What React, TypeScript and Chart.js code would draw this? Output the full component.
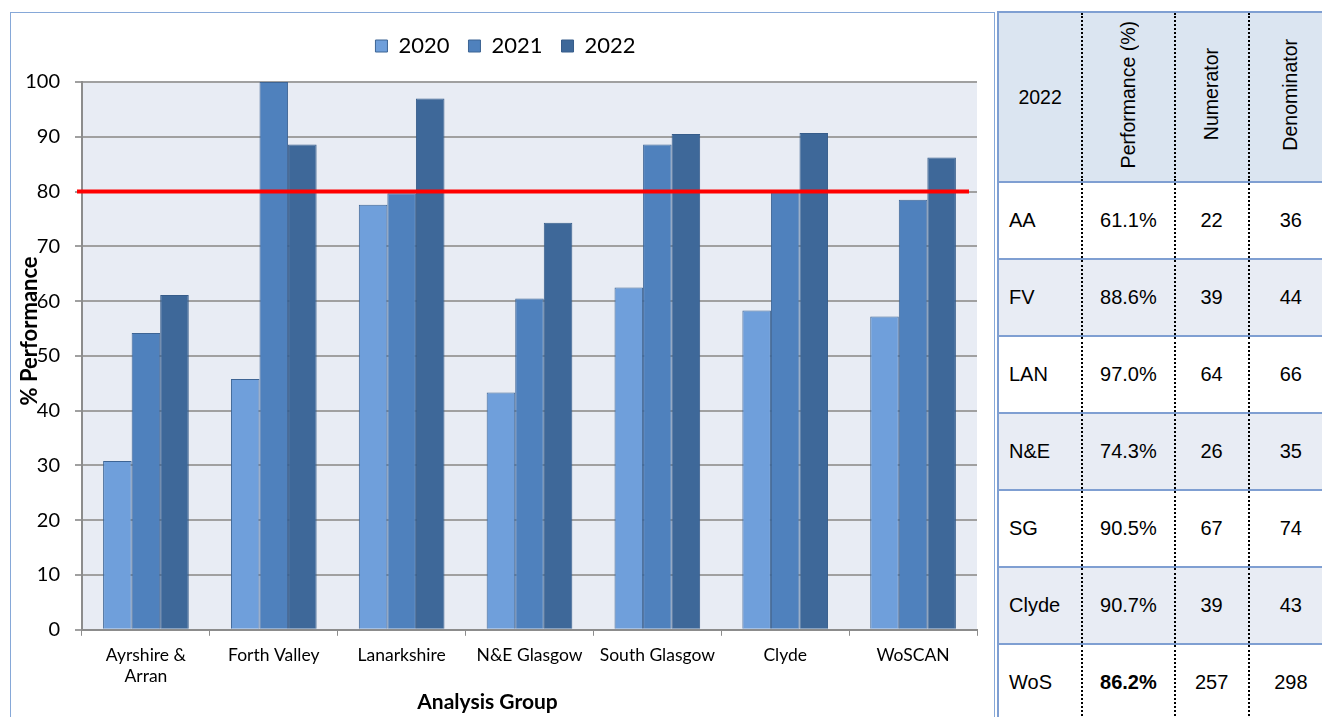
import React, { useEffect, useRef } from "react";
import { Chart, registerables } from "chart.js";

Chart.register(...registerables);

const categories: (string | string[])[] = [
  ["Ayrshire &", "Arran"],
  "Forth Valley",
  "Lanarkshire",
  "N&E Glasgow",
  "South Glasgow",
  "Clyde",
  "WoSCAN",
];
const values2020 = [30.8, 45.8, 77.6, 43.3, 62.5, 58.3, 57.2];
const values2021 = [54.2, 100, 79.7, 60.5, 88.6, 80.0, 78.5];
const values2022 = [61.1, 88.6, 97.0, 74.3, 90.5, 90.7, 86.2];
const targetValue = 80;
const yTicks = [0, 10, 20, 30, 40, 50, 60, 70, 80, 90, 100];
const xTitle = "Analysis Group";
const yTitle = "% Performance";

const tableHeaderYear = "2022";
const tableColumns = ["Performance (%)", "Numerator", "Denominator"];
const tableGroups = ["AA", "FV", "LAN", "N&E", "SG", "Clyde", "WoS"];
const tablePerf = ["61.1%", "88.6%", "97.0%", "74.3%", "90.5%", "90.7%", "86.2%"];
const tableNum = [22, 39, 64, 26, 67, 39, 257];
const tableDen = [36, 44, 66, 35, 74, 43, 298];

const FONT = "Lato, 'Open Sans', sans-serif";
const X_TITLE_SIZE = 21;
const Y_TITLE_SIZE = 22;

const bgPlugin = {
  id: "plotBg",
  beforeDraw(chart: any) {
    const { ctx, chartArea } = chart;
    ctx.save();
    ctx.fillStyle = "#e8ecf4";
    ctx.fillRect(chartArea.left, chartArea.top, chartArea.right - chartArea.left, chartArea.bottom - chartArea.top);
    ctx.restore();
  },
};

const legendGapPlugin = {
  id: "legendGap",
  beforeLayout(chart: any) {
    const lg = chart.legend;
    if (lg && !lg.__patched) {
      const f = lg.fit;
      lg.fit = function (this: any) {
        f.call(this);
        this.height += 15;
      };
      lg.__patched = true;
    }
  },
  afterLayout(chart: any) {
    const lg = chart.legend;
    if (lg) lg.left += 18;
  },
};

const targetPlugin = {
  id: "targetLine",
  afterDatasetsDraw(chart: any) {
    const { ctx, chartArea } = chart;
    const y = chart.scales.y.getPixelForValue(targetValue);
    ctx.save();
    ctx.strokeStyle = "#ff0000";
    ctx.lineWidth = 4;
    ctx.beginPath();
    ctx.moveTo(chartArea.left - 5, y);
    ctx.lineTo(chartArea.right - 8, y);
    ctx.stroke();
    ctx.restore();
  },
};

const axisTitlePlugin = {
  id: "axisTitlesShifted",
  afterDraw(chart: any) {
    const { ctx, chartArea } = chart;
    const sx = chart.scales.x;
    const sy = chart.scales.y;
    ctx.save();
    ctx.fillStyle = "#000";
    ctx.textAlign = "center";
    ctx.textBaseline = "middle";
    ctx.font = `bold ${X_TITLE_SIZE}px ${FONT}`;
    ctx.fillText(xTitle, (chartArea.left + chartArea.right) / 2 - 42, sx.bottom - 19);
    ctx.font = `bold ${Y_TITLE_SIZE}px ${FONT}`;
    ctx.translate(sy.left + (Y_TITLE_SIZE * 1.2) / 2 + 1, (chartArea.top + chartArea.bottom) / 2 - 25);
    ctx.rotate(-Math.PI / 2);
    ctx.fillText(yTitle, 0, 0);
    ctx.restore();
  },
};

function BarChart() {
  const ref = useRef<HTMLCanvasElement>(null);
  useEffect(() => {
    if (!ref.current) return;
    const chart = new Chart(ref.current, {
      type: "bar",
      data: {
        labels: categories as any,
        datasets: [
          { label: "2020", data: values2020, backgroundColor: "#6f9fdb", borderColor: "#3d6494", borderWidth: 1 },
          { label: "2021", data: values2021, backgroundColor: "#4f81bd", borderColor: "#3d6494", borderWidth: 1 },
          { label: "2022", data: values2022, backgroundColor: "#3e6899", borderColor: "#365c8a", borderWidth: 1 },
        ],
      },
      options: {
        animation: false,
        responsive: false,
        maintainAspectRatio: false,
        datasets: { bar: { categoryPercentage: 0.67, barPercentage: 1.0 } } as any,
        layout: { padding: { left: 5, right: 17, top: 3, bottom: 0 } },
        plugins: {
          legend: {
            position: "top",
            labels: {
              font: { family: FONT, size: 22 },
              color: "#000",
              boxWidth: 12,
              boxHeight: 12,
              padding: 19,
            },
          },
          tooltip: { enabled: false },
        },
        scales: {
          x: {
            grid: {
              offset: true,
              drawOnChartArea: false,
              drawTicks: true,
              tickLength: 6,
              color: "#8c8c8c",
            },
            border: { color: "#8c8c8c", width: 2 },
            ticks: { font: { family: FONT, size: 17.5 }, color: "#000", maxRotation: 0, autoSkip: false, padding: 9 },
            title: {
              display: true,
              text: xTitle,
              font: { family: FONT, size: X_TITLE_SIZE, weight: "bold" },
              color: "rgba(0,0,0,0)",
              padding: { top: 0, bottom: 0 },
            },
          },
          y: {
            min: 0,
            max: 100,
            afterBuildTicks(scale: any) {
              scale.ticks = yTicks.map((v) => ({ value: v }));
            },
            afterFit(scale: any) {
              scale.width = 66;
            },
            grid: { color: "#a0a0a0", lineWidth: 2, tickLength: 7 },
            border: { color: "#8c8c8c", width: 2 },
            ticks: { font: { family: FONT, size: 20 }, color: "#000", padding: 15 },
            title: {
              display: true,
              text: yTitle,
              font: { family: FONT, size: Y_TITLE_SIZE, weight: "bold" },
              color: "rgba(0,0,0,0)",
              padding: { top: 0, bottom: 0 },
            },
          },
        },
      },
      plugins: [bgPlugin, legendGapPlugin, targetPlugin, axisTitlePlugin],
    });
    return () => chart.destroy();
  }, []);
  return <canvas ref={ref} width={983} height={708} style={{ display: "block" }} />;
}

const cellBase: React.CSSProperties = {
  fontFamily: "'Liberation Sans', Arial, sans-serif",
  fontSize: 20,
  color: "#000",
  textAlign: "center",
  verticalAlign: "middle",
  padding: 0,
  borderTop: "2px solid #7f9fd2",
  borderBottom: "2px solid #7f9fd2",
  borderRight: "2px dotted #000",
};

function DataTable() {
  const colWidths = [84, 92, 74, 83];
  return (
    <table
      style={{
        position: "absolute",
        left: 997,
        top: 11,
        width: 335,
        borderCollapse: "collapse",
        tableLayout: "fixed",
        borderLeft: "2px solid #7f9fd2",
      }}
    >
      <colgroup>
        {colWidths.map((w, i) => (
          <col key={i} style={{ width: w }} />
        ))}
      </colgroup>
      <tbody>
        <tr style={{ height: 170, background: "#dbe5f1" }}>
          <td style={{ ...cellBase, fontSize: 19.5 }}>{tableHeaderYear}</td>
          {tableColumns.map((c, i) => (
            <td key={i} style={{ ...cellBase, fontSize: 19.5, borderRight: i === 2 ? "none" : cellBase.borderRight }}>
              <div
                style={{
                  writingMode: "vertical-rl",
                  transform: "rotate(180deg)",
                  display: "inline-block",
                  whiteSpace: "nowrap",
                }}
              >
                {c}
              </div>
            </td>
          ))}
        </tr>
        {tableGroups.map((g, i) => (
          <tr key={g} style={{ height: 77, background: i % 2 === 1 ? "#e8ecf4" : "#ffffff" }}>
            <td style={{ ...cellBase, textAlign: "left", paddingLeft: 10 }}>{g}</td>
            <td style={{ ...cellBase, fontWeight: g === "WoS" ? "bold" : "normal" }}>{tablePerf[i]}</td>
            <td style={cellBase}>{tableNum[i]}</td>
            <td style={{ ...cellBase, borderRight: "none" }}>{tableDen[i]}</td>
          </tr>
        ))}
      </tbody>
    </table>
  );
}

export default function App() {
  return (
    <div style={{ position: "fixed", left: 0, top: 0, width: 1322, height: 717, overflow: "hidden", background: "#fff" }}>
      <div
        style={{
          position: "absolute",
          left: 10,
          top: 12,
          width: 983,
          height: 720,
          border: "1px solid #86a8d8",
        }}
      >
        <BarChart />
      </div>
      <DataTable />
    </div>
  );
}
